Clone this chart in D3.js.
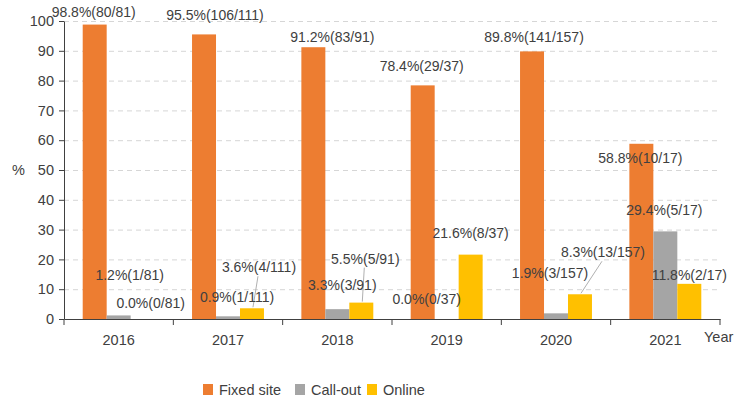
<!DOCTYPE html>
<html>
<head>
<meta charset="utf-8">
<script src="https://cdn.jsdelivr.net/npm/d3@7"></script>
<style>
  body { margin: 0; background: #fff; }
  svg { font-family: "Liberation Sans", Arial, sans-serif; }
  .grid line { stroke: #d6d6d6; stroke-dasharray: 5 4; }
  .grid .domain { display: none; }
  .axis text { fill: #404040; font-size: 14.5px; }
  .axis line, .axis path { stroke: #404040; }
  .lbl { fill: #404040; font-size: 14px; }
</style>
</head>
<body>
<div id="chart"></div>
<script>
const years = ['2016', '2017', '2018', '2019', '2020', '2021'];
const series = ['Fixed site', 'Call-out', 'Online'];
const colors = ['#ED7D31', '#A5A5A5', '#FFC000'];

// percentage and counts per year, per series
const fixedPct = [98.8, 95.5, 91.2, 78.4, 89.8, 58.8];
const callPct = [1.2, 0.9, 3.3, 0.0, 1.9, 29.4];
const onlinePct = [0.0, 3.6, 5.5, 21.6, 8.3, 11.8];
const fixedN = [80, 106, 83, 29, 141, 10];
const callN = [1, 1, 3, 0, 3, 5];
const onlineN = [0, 4, 5, 8, 13, 2];
const totals = [81, 111, 91, 37, 157, 17];
const yTicks = [0, 10, 20, 30, 40, 50, 60, 70, 80, 90, 100];

// label placement relative to bar (px): [dx, dy from bar top], leader = draw line
const labelPos = [
  [[-1, -13], [11, -40], [8, -16]],
  [[11, -19], [9, -19], [7, -41, true]],
  [[19, -10], [5, -24], [4, -44, true]],
  [[-1, -19], [-20, -20], [0, -22]],
  [[2, -14], [-6, -40], [23, -42, true]],
  [[-1, 14], [-1, -21], [0, -9]]
];

const pcts = [fixedPct, callPct, onlinePct];
const counts = [fixedN, callN, onlineN];

const width = 744, height = 400;
const margin = { top: 21, right: 24, bottom: 81, left: 64 };

const svg = d3.select('#chart').append('svg')
  .attr('width', width).attr('height', height);

const x0 = d3.scaleBand().domain(years)
  .range([margin.left, width - margin.right]);
const x1 = d3.scaleBand().domain(series)
  .range([0, x0.bandwidth()]).paddingOuter(0.78);
const y = d3.scaleLinear().domain([0, 100])
  .range([height - margin.bottom, margin.top]);

// gridlines
svg.append('g').attr('class', 'grid')
  .attr('transform', `translate(${margin.left},0)`)
  .call(d3.axisLeft(y).tickValues(yTicks.slice(1)).tickFormat('')
    .tickSize(-(width - margin.left - margin.right)));

const cells = years.flatMap((yr, i) => series.map((s, j) => ({
  year: yr, s, j, i,
  v: pcts[j][i],
  text: `${pcts[j][i].toFixed(1)}%(${counts[j][i]}/${totals[i]})`
})));

const cx = d => x0(d.year) + x1(d.s) + x1.bandwidth() / 2;

svg.append('g').selectAll('rect').data(cells).join('rect')
  .attr('x', d => x0(d.year) + x1(d.s))
  .attr('width', x1.bandwidth())
  .attr('y', d => y(d.v))
  .attr('height', d => y(0) - y(d.v))
  .attr('fill', d => colors[d.j]);

// axes
const yAxis = svg.append('g').attr('class', 'axis')
  .attr('transform', `translate(${margin.left},0)`)
  .call(d3.axisLeft(y).tickValues(yTicks).tickSize(5).tickSizeOuter(0));
yAxis.selectAll('text').attr('dx', '-2');

const xAxis = svg.append('g').attr('class', 'axis')
  .attr('transform', `translate(0,${y(0)})`)
  .call(d3.axisBottom(x0).tickSize(0).tickSizeOuter(0));
xAxis.selectAll('text').attr('dy', '1.6em');
xAxis.selectAll('line.sep').data(years.concat(['end'])).join('line')
  .attr('class', 'sep')
  .attr('x1', (d, i) => margin.left + x0.step() * i)
  .attr('x2', (d, i) => margin.left + x0.step() * i)
  .attr('y1', 0).attr('y2', 6)
  .attr('stroke', '#404040');

// leader lines and data labels on top of all bars
const labels = svg.append('g');
labels.selectAll('line').data(cells.filter(d => labelPos[d.i][d.j][2])).join('line')
  .attr('x1', d => cx(d) + labelPos[d.i][d.j][0] - 1)
  .attr('y1', d => y(d.v) + labelPos[d.i][d.j][1] + 9)
  .attr('x2', d => cx(d) + 1)
  .attr('y2', d => y(d.v) - 1)
  .attr('stroke', '#b0b0b0').attr('stroke-width', 1);

labels.selectAll('text').data(cells).join('text')
  .attr('class', 'lbl')
  .attr('text-anchor', 'middle')
  .attr('dominant-baseline', 'central')
  .attr('x', d => cx(d) + labelPos[d.i][d.j][0])
  .attr('y', d => y(d.v) + labelPos[d.i][d.j][1])
  .text(d => d.text);

svg.append('text')
  .attr('x', 12).attr('y', 170).attr('dominant-baseline', 'central')
  .attr('fill', '#404040').style('font-size', '14.5px').text('%');
svg.append('text')
  .attr('x', 704).attr('y', 337).attr('dominant-baseline', 'central')
  .attr('fill', '#404040').style('font-size', '14.5px').text('Year');

// legend
const legX = [203, 295, 367];
const leg = svg.append('g').selectAll('g').data(series).join('g')
  .attr('transform', (d, i) => `translate(${legX[i]},384)`);
leg.append('rect').attr('width', 10).attr('height', 11).attr('fill', (d, i) => colors[i]);
leg.append('text').attr('x', 16).attr('y', 6).attr('dominant-baseline', 'central')
  .attr('fill', '#404040').style('font-size', '14.5px').text(d => d);
</script>
</body>
</html>
